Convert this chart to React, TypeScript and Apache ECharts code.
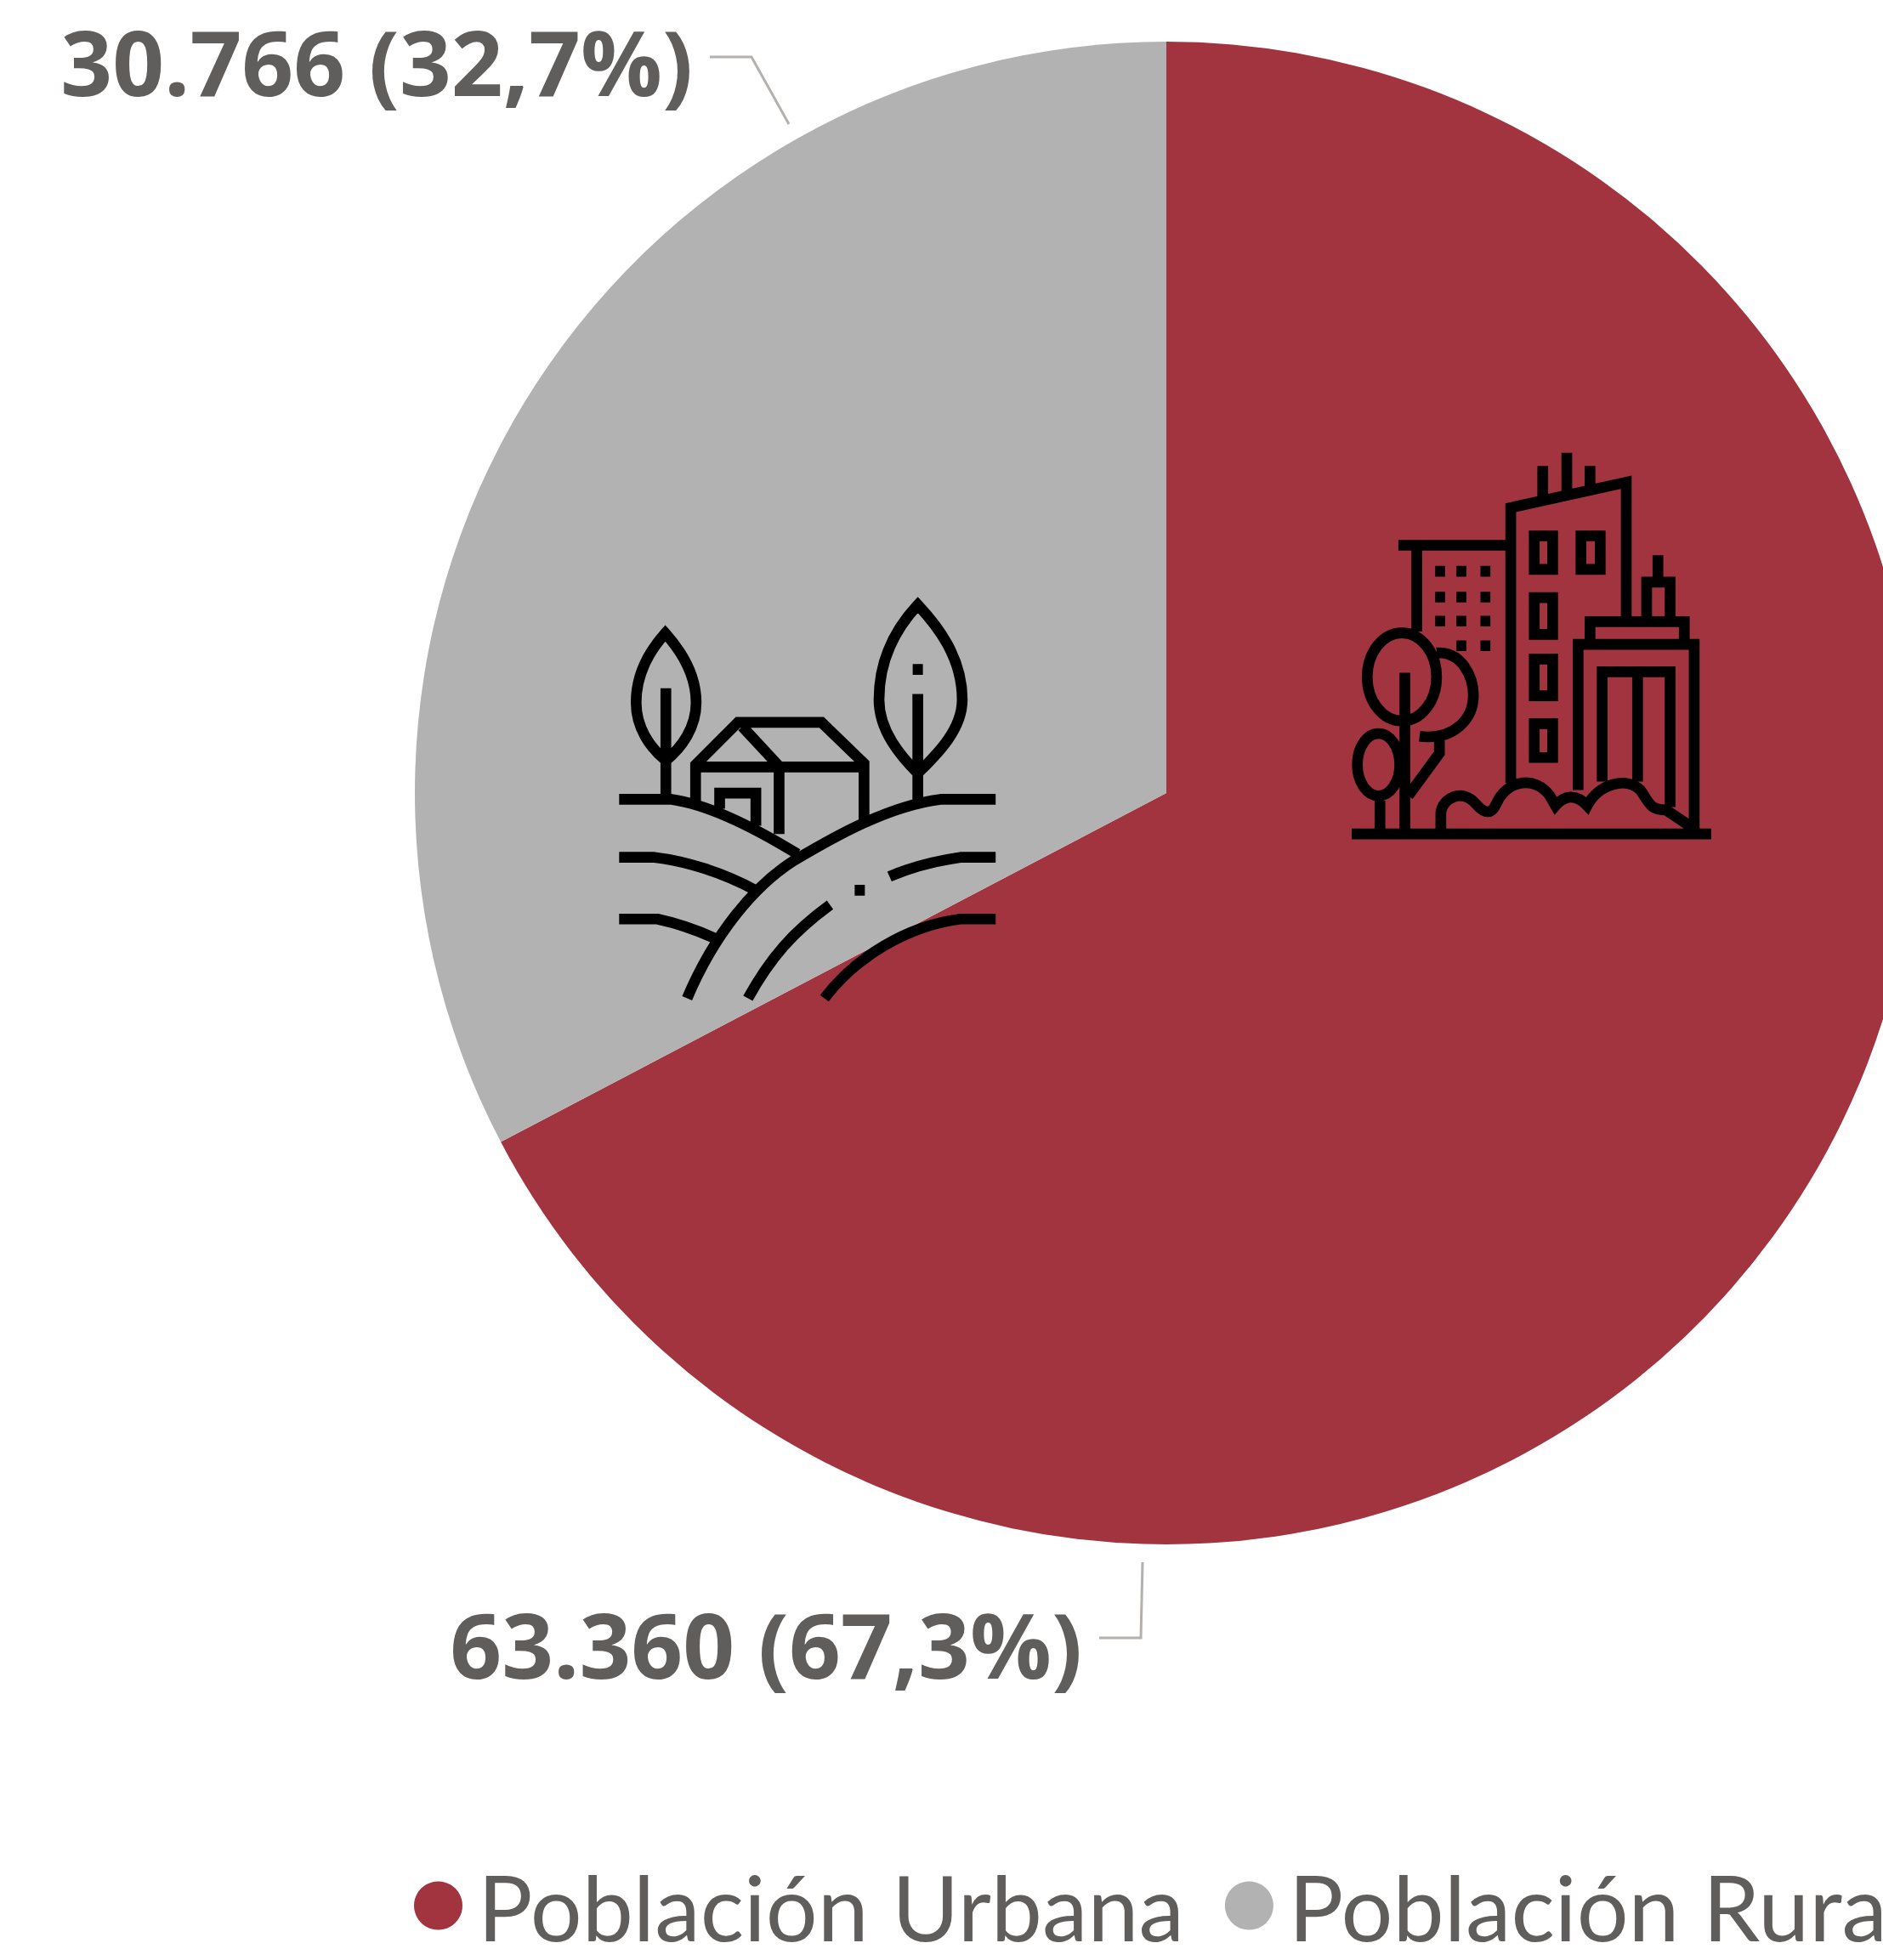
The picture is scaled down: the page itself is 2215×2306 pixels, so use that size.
import React, { useEffect, useRef } from "react";
import * as echarts from "echarts";

const categories = ["Población Urbana", "Población Rural"];
const values = [63360, 30766];
const percents = ["67,3", "32,7"];
const colors = ["#A1343F", "#B2B2B2"];

const textColor = "#605E5C";
const lineColor = "#B3B0AD";

const ruralIcon =
  "M248 195C190 260 145 340 145 440C145 530 195 600 250 645C305 600 357 530 357 440C357 340 306 260 248 195Z" +
  "M250 390V780" +
  "M85 782H270C400 800 560 880 715 975" +
  "M355 790V660L505 510H800L950 655V860" +
  "M520 525L650 665" +
  "M360 668H950" +
  "M650 670V905" +
  "M440 815V760H568V875" +
  "M1140 95C1070 170 1003 280 1003 430C1003 540 1080 630 1140 690C1200 630 1297 540 1297 430C1297 280 1210 170 1140 95Z" +
  "M1140 410V790" +
  "M1122 323H1158" +
  "M1415 782H1220C1040 805 860 905 700 1000C560 1090 420 1260 325 1485" +
  "M85 987H210C320 1000 450 1040 570 1105" +
  "M85 1205H220C290 1220 350 1240 420 1272" +
  "M1415 987H1290C1200 1000 1120 1020 1040 1055" +
  "M830 1155C700 1250 620 1340 540 1485" +
  "M917 1103H953" +
  "M1415 1205H1290C1100 1230 920 1340 810 1485";

const urbanIcon =
  "M90 1415H1360" +
  "M652 1235V262L1060 172V650" +
  "M765 115V230M850 68V220M932 115V205" +
  "M735 362H800V480H735ZM900 362H968V480H900Z" +
  "M735 580H800V710H735ZM735 797H800V927H735ZM735 1025H800V1145H735Z" +
  "M255 395H640M320 410V700" +
  "M385 487H420M460 487H495M545 487H580" +
  "M385 578H420M460 578H495M545 578H580" +
  "M385 663H420M460 663H495M545 663H580" +
  "M460 750H495M545 750H580" +
  "M390 860A122 155 0 1 1 145 860A122 155 0 1 1 390 860Z" +
  "M278 845V1410" +
  "M390 775C480 770 520 860 520 925C520 1010 450 1085 330 1070" +
  "M260 1170A75 110 0 1 1 110 1170A75 110 0 1 1 260 1170Z" +
  "M190 1280V1410" +
  "M290 1280L400 1130V1085" +
  "M405 1400V1340C410 1290 480 1250 530 1310C560 1345 585 1345 600 1310C640 1220 740 1210 790 1280L810 1315C840 1280 880 1270 922 1315C960 1240 1060 1210 1110 1260C1140 1300 1140 1330 1200 1330L1290 1390" +
  "M890 1260V745H1300V1400" +
  "M932 745V665H1265V745" +
  "M1132 650V525H1215V650M1172 430V520" +
  "M975 1230V842H1215V1320M1100 850V1230";

echarts.graphic.registerShape("ruralIcon", echarts.graphic.extendPath(ruralIcon, {}));
echarts.graphic.registerShape("urbanIcon", echarts.graphic.extendPath(urbanIcon, {}));

export default function App() {
  const ref = useRef<HTMLDivElement>(null);
  useEffect(() => {
    const chart = echarts.init(ref.current!, undefined, { renderer: "svg" });
    chart.setOption({
      animation: false,
      legend: {
        show: true,
        data: categories,
        orient: "horizontal",
        left: 487,
        top: 2188,
        padding: 0,
        width: 3000,
        icon: "circle",
        itemWidth: 57,
        itemHeight: 57,
        itemGap: 48,
        selectedMode: false,
        textStyle: {
          color: textColor,
          fontFamily: "Lato",
          fontWeight: 400,
          fontSize: 107.5,
          padding: [0, 0, 0, 13],
        },
      },
      series: [
        {
          type: "pie",
          center: [1372, 933],
          radius: [0, 884],
          startAngle: 90,
          clockwise: true,
          silent: true,
          avoidLabelOverlap: false,
          data: categories.map((name, i) => ({
            name,
            value: values[i],
            itemStyle: { color: colors[i] },
          })),
          label: {
            show: true,
            position: "outside",
            color: textColor,
            fontFamily: "Open Sans",
            fontWeight: 700,
            fontSize: 106.5,
            lineHeight: 110,
            formatter: (p: any) =>
              `${String(values[p.dataIndex]).replace(/(\d)(\d{3})$/, "$1.$2")} (${percents[p.dataIndex]}%)`,
          },
          labelLine: { show: true, lineStyle: { color: lineColor, width: 3 } },
          labelLayout: (p: any) =>
            p.dataIndex === 0
              ? {
                  x: 1273,
                  y: 1933,
                  align: "right",
                  verticalAlign: "middle",
                  labelLinePoints: [[1293, 1927], [1342, 1927], [1344, 1838]],
                }
              : {
                  x: 815,
                  y: 71,
                  align: "right",
                  verticalAlign: "middle",
                  labelLinePoints: [[835, 67], [884, 67], [928, 146]],
                },
        },
      ],
      graphic: [
        {
          type: "ruralIcon",
          x: 700,
          y: 680,
          scaleX: 1 / 3,
          scaleY: 1 / 3,
          z: 20,
          silent: true,
          style: { fill: "none", stroke: "#000", lineWidth: 38 },
        },
        {
          type: "urbanIcon",
          x: 1560,
          y: 510,
          scaleX: 1 / 3,
          scaleY: 1 / 3,
          z: 20,
          silent: true,
          style: { fill: "none", stroke: "#000", lineWidth: 38 },
        },
      ],
    });
    return () => chart.dispose();
  }, []);
  return (
    <div
      ref={ref}
      style={{ position: "absolute", left: 0, top: 0, width: 2215, height: 2306, background: "#fff" }}
    />
  );
}
